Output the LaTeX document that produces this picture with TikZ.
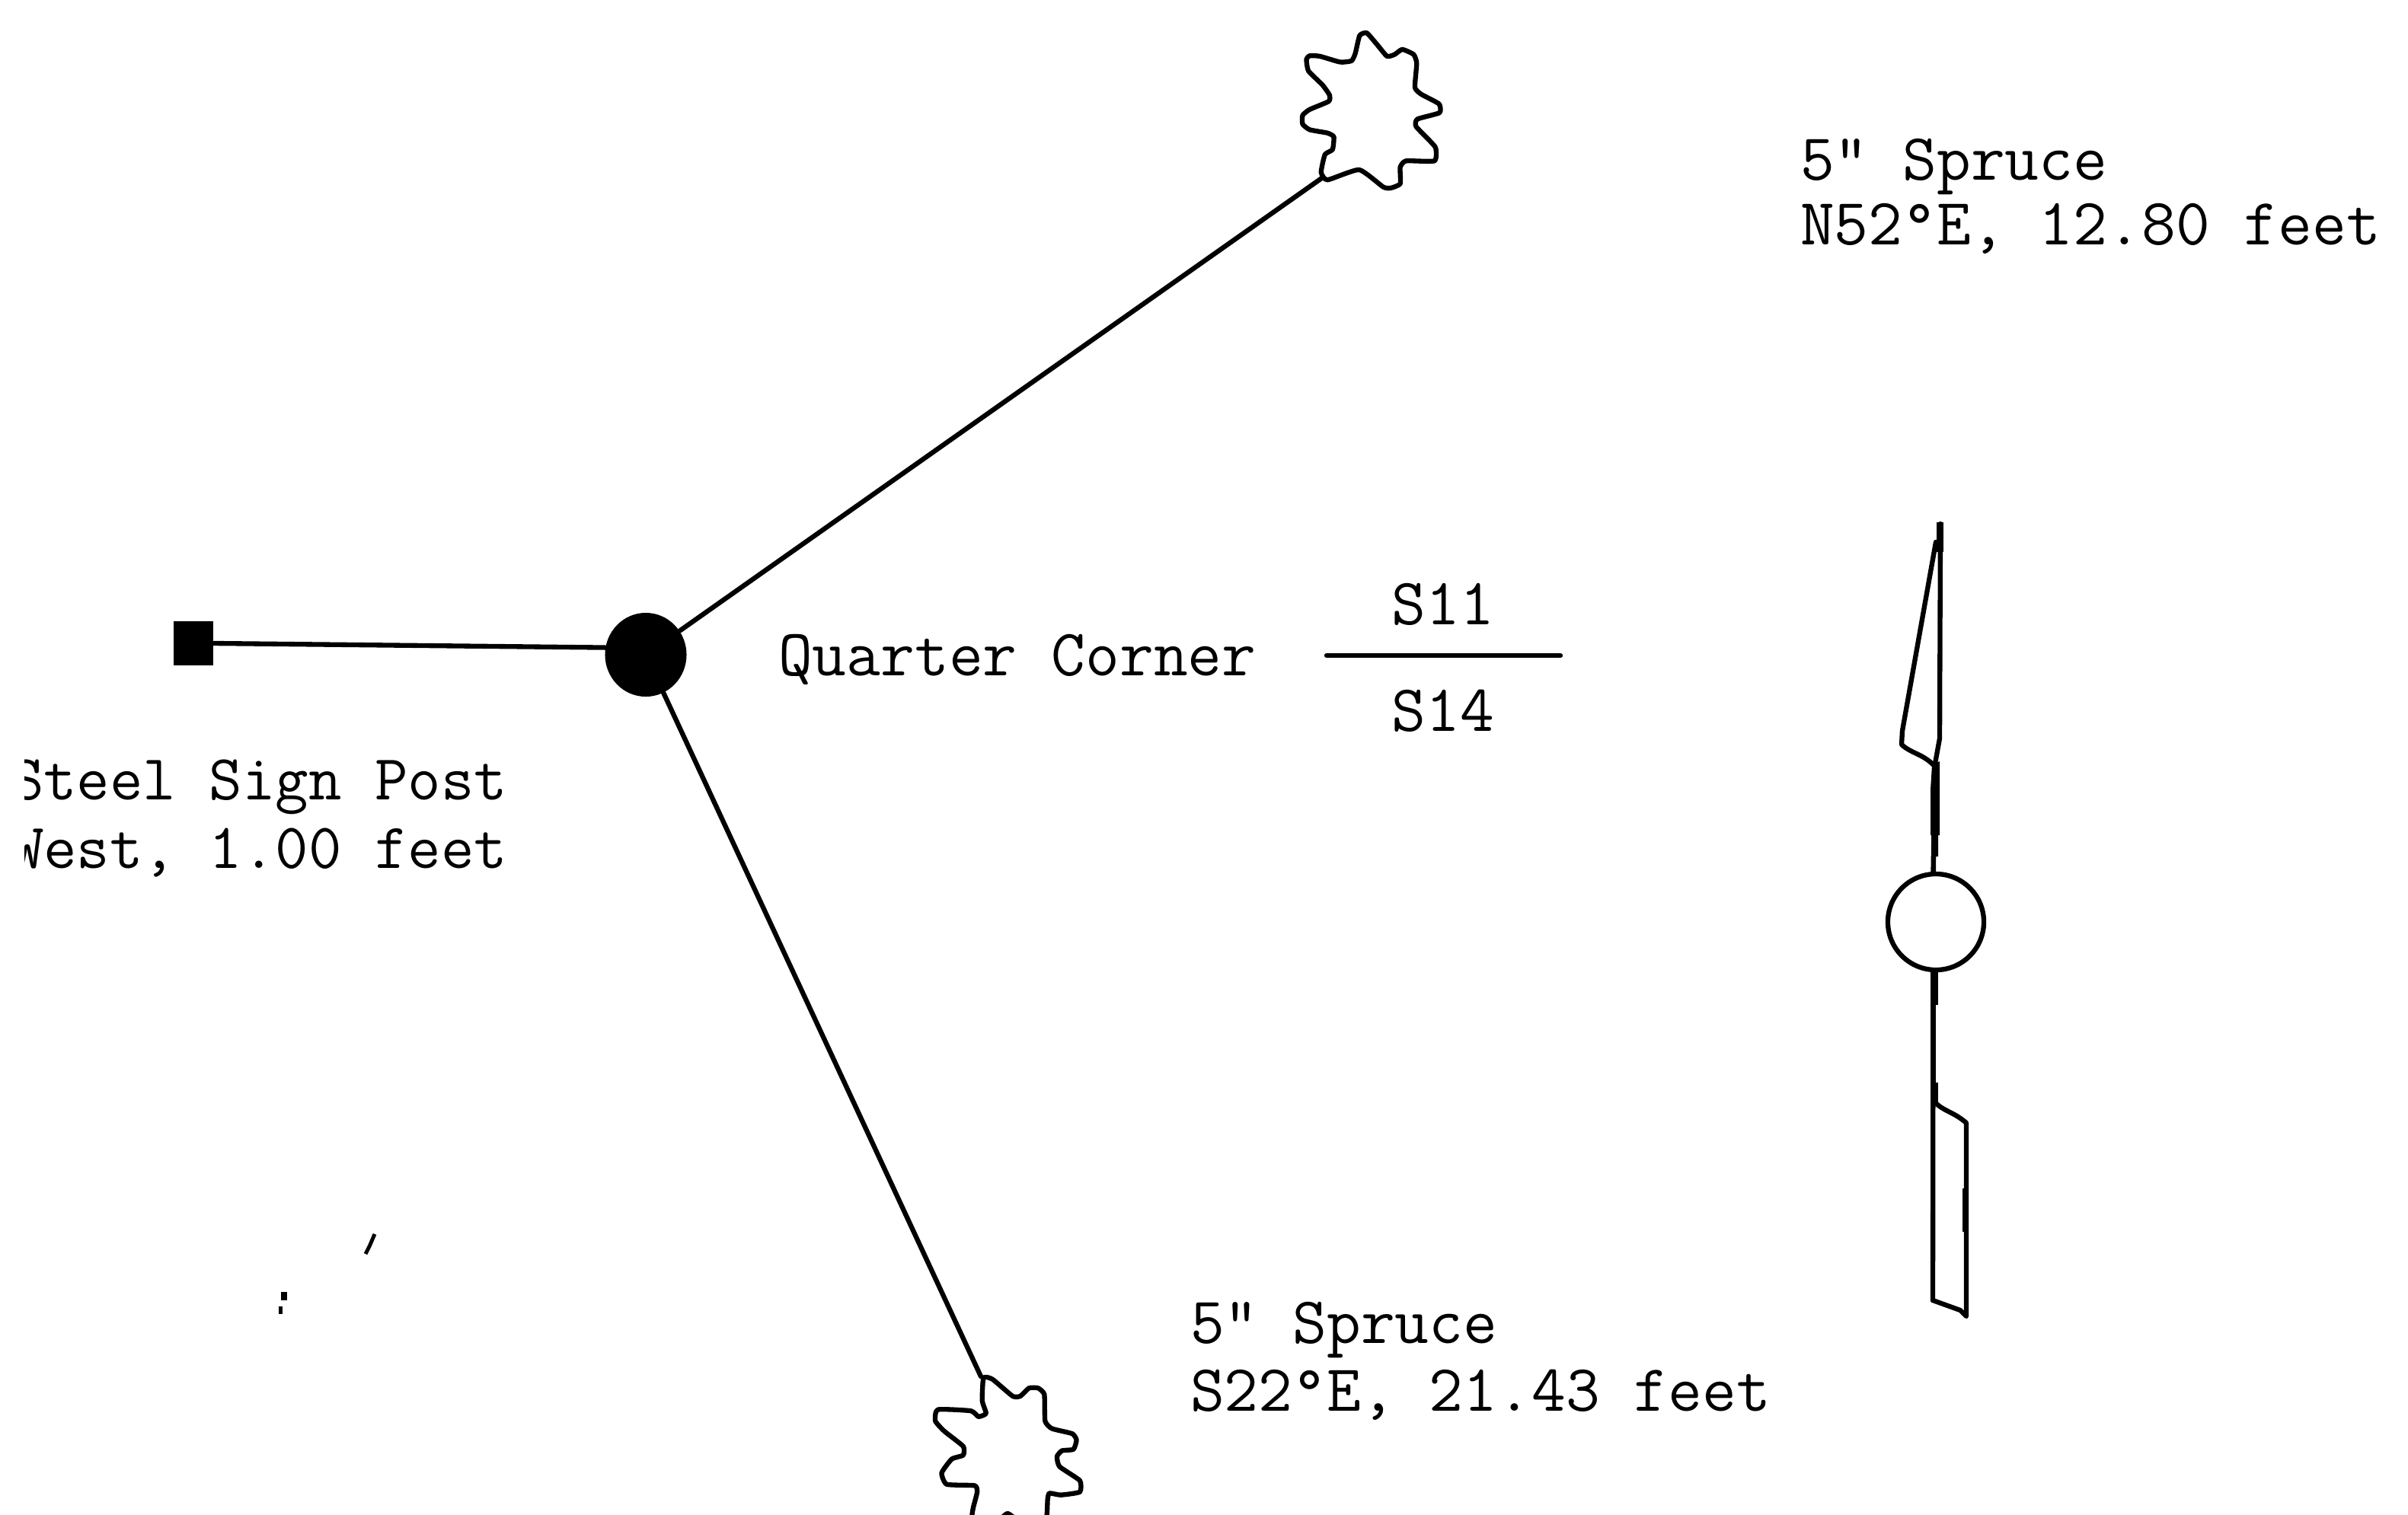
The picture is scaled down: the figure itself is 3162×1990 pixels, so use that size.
\documentclass[tikz,border=0pt]{standalone}
\usepackage{fontspec}
\usetikzlibrary{shapes.geometric}
\tikzset{
  lbl/.style={inner sep=0pt,outer sep=0pt,font=\fontsize{24.75}{25}\selectfont\ttfamily\addfontfeature{FakeBold=0.35},text=black},
  lblnarrow/.style={inner sep=0pt,outer sep=0pt,font=\fontsize{24}{25}\selectfont\ttfamily\addfontfeature{FakeBold=0.35},text=black},
  ink/.style={line width=1.8pt,black,line join=round,line cap=round},
  zoomed/.style={x=0.0033333cm,y=-0.0033333cm}
}
\begin{document}
\begin{tikzpicture}[x=0.01cm,y=-0.01cm]
\useasboundingbox (0,0) rectangle (3162,1990);
\clip (0,0) rectangle (3162,1990);
% central monument and post
\node[ellipse,fill=black,inner sep=0pt,minimum width=1.07cm,minimum height=1.10cm] (corner) at (848,860) {};
\node[rectangle,fill=black,inner sep=0pt,minimum width=0.52cm,minimum height=0.57cm] (post) at (254,845) {};
\coordinate (treeA) at (1737,233);
\coordinate (treeB) at (1288,1808);
\draw[ink] (post.east) -- (corner.170);
\draw[ink] (corner) -- (treeA);
\draw[ink] (corner) -- (treeB);
% upper spruce
\begin{scope}[shift={(1620,0)},zoomed]
\draw[ink] plot[smooth cycle,tension=0.3] coordinates {
(345,680)(360,610)(390,590)(395,540)(370,525)(300,512)(272,490)(272,455)(300,432)(375,400)(378,375)(350,335)(295,280)(287,235)(300,220)(340,222)(420,245)(465,240)(480,210)(497,140)(525,130)(565,175)(605,222)(635,215)(665,195)(710,215)(722,250)(715,345)(740,372)(810,410)(812,445)(725,470)(720,500)(795,580)(792,635)(680,635)(657,660)(657,725)(620,742)(590,738)(495,670)(370,710)};
\end{scope}
% lower spruce
\begin{scope}[shift={(1160,1760)},zoomed]
\draw[ink] plot[smooth cycle,tension=0.3] coordinates {
(395,150)(430,155)(510,222)(540,222)(575,190)(610,190)(635,215)(638,320)(665,350)(745,370)(762,395)(750,432)(705,437)(685,460)(695,500)(775,555)(775,600)(700,612)(655,605)(648,630)(645,690)(630,730)(570,750)(490,685)(420,750)(355,730)(350,690)(355,660)(370,600)(360,575)(250,570)(230,525)(270,470)(315,455)(315,420)(240,360)(205,320)(215,275)(345,280)(375,303)(405,290)(390,240)};
\end{scope}
% north arrow
\node[circle,draw=black,line width=1.8pt,inner sep=0pt,minimum size=1.26cm] (hub) at (2542,1211) {};
\coordinate (tip) at (2548,688);
\coordinate (tail) at (2538,1708);
\draw[ink] (tip) -- (2547,970) -- (2541,1003) -- (hub.93);
\draw[ink] (hub.267) -- (tail);
\draw[ink] (2542,712) -- (2498,960) -- (2497,978) .. controls (2510,990) and (2525,990) .. (2540,1006);
\draw[ink] (2540,1447) .. controls (2552,1460) and (2565,1460) .. (2582,1475) -- (2582,1729) -- (2574,1721) -- (tail);
\fill[black] (2543,686) rectangle (2552,725);
\fill[black] (2537,1005) -- (2535,1037) -- (2535,1097) -- (2537,1097) -- (2537,1146) -- (2542,1146) -- (2542,1125) -- (2545,1125) -- (2545,1097) -- (2547,1097) -- (2547,1000) -- cycle;
\fill[black] (2535,1277) rectangle (2545,1320);
\fill[black] (2535,1320) rectangle (2542,1447);
\fill[black] (2538,1422) rectangle (2545,1447);
\fill[black] (2577,1561) rectangle (2585,1618);
% specks
\draw[line width=1.4pt,black] (492,1621) -- (486,1635) -- (480,1647);
\fill[black] (369,1697) rectangle (377,1708);
\fill[black] (366,1716) rectangle (371,1726);
% labels
\node[lbl,anchor=base west] (sprA) at (2364,236) {5" Spruce};
\node[lbl,anchor=base west] (brgA) at (2364,321) {N52°E, 12.80 feet};
\node[lbl,anchor=base west] (qc) at (1022,887) {Quarter Corner};
\node[lbl,anchor=base] (sA) at (1895,820) {S11};
\node[lbl,anchor=base] (sB) at (1895,960) {S14};
\coordinate (ruleL) at (1742,861);
\coordinate (ruleR) at (2049,861);
\draw[ink] (ruleL) -- (ruleR);
\node[lbl,anchor=base west] (sprB) at (1563,1764) {5" Spruce};
\node[lbl,anchor=base west] (brgB) at (1563,1853) {S22°E, 21.43 feet};
\begin{scope}
\clip (32,960) rectangle (760,1190);
\node[lblnarrow,anchor=base east] (sgn) at (666,1050) {Steel Sign Post};
\node[lblnarrow,anchor=base east] (wst) at (666,1140) {West, 1.00 feet};
\end{scope}
\end{tikzpicture}
\end{document}
